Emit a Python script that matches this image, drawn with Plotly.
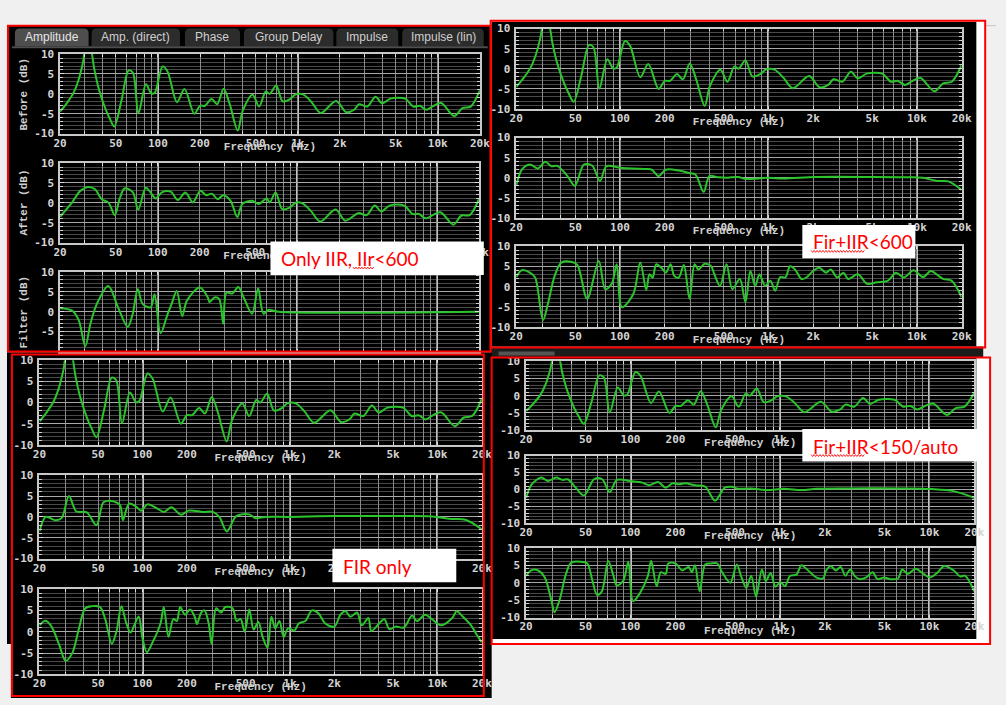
import math
import plotly.graph_objects as go

W, H = 1006, 705

# ---------------- data ----------------
BEFORE_F = [20, 22.5, 25, 27, 29, 31, 33, 35, 37.6, 41.9, 45, 48.7, 54.9, 61.8, 66.3, 72.6, 82.2, 90, 95, 108,
            117, 137, 155, 182, 200, 217, 242, 265, 295, 326, 372, 404, 475, 529, 590, 629, 700, 780, 883, 958,
            1096, 1255, 1460, 1880, 2212, 2530, 2740, 3140, 3594, 4000, 4580, 5840, 6680, 7450, 8300, 9240,
            10570, 13120, 15000, 17180, 20000]
BEFORE_DB = [-4.5, -2.2, 0.3, 3.3, 7.5, 12.5, 11.5, 6.5, 1.6, -3.5, -6, -8.2, -1.7, 5.9, 5.3, -4.9, 2.4, 0.1, 0.3, 6.9,
             5.7, -2.1, 1.2, -5, -3, -3, -1.3, -2.6, 1.3, -2.6, -9.2, -4.2, -0.2, -3.2, 0.6, 0, 2.1, -1.9, -1.3, -0.2,
             -0.2, -2.1, -4.8, -1.8, -4.6, -4, -2.6, -3.2, -0.7, -2.4, -1.2, -1.2, -3.2, -3, -4, -3.1,
             -2.3, -5.6, -3.6, -3.2, 0.9]

AFTER_IIR_F = [20, 24.4, 27.9, 32, 35.6, 39.7, 44.3, 49.3, 53.3, 57.9, 66.3, 72.6, 82.2, 89, 96.8, 107.8, 124, 139.5,
               158, 178.6, 202, 223, 245, 269, 295, 333, 372, 404, 475, 529, 604, 635, 700, 780, 883, 980, 1096,
               1255, 1460, 1880, 2212, 2740, 3140, 3594, 4000, 4580, 5840, 6680, 7450, 8300, 10570, 13120, 15000,
               17180, 20000]
AFTER_IIR_DB = [-3.5, 0.1, 3, 4, 3.4, 0.9, 0.1, -3.1, 0.9, 3.6, 2.7, -1.7, 3.8, 2.6, 1.1, 2.7, 2.8, 0.7,
                2.6, 0.1, 3, 1.9, 2.3, 0.9, 1.9, 0.5, -3.6, -0.3, 0.5, -0.3, 1.1, 0.1, 2.6, -1.6, -1.2, 0.1, -0.2,
                -2.1, -4.7, -1.7, -4.5, -2.6, -3.1, -0.7, -2.2, -0.7, -0.7, -2.8, -2.8, -3.9, -2.4, -5.5, -3.2,
                -3.1, 0.9]

FILTER_IIR_F = [20, 24.4, 27.2, 30.3, 33, 36.7, 44.3, 52, 61, 66.3, 72, 78, 89, 95, 105, 117, 126, 137, 150, 162,
                200, 229, 235, 255, 276, 295, 311, 343, 378, 413, 475, 524, 573, 625, 733, 20000]
FILTER_IIR_DB = [0.9, 0.3, -2.1, -8.7, -3, 2, 6.5, 1.1, -3.8, -0.5, 5.7, 2, 1.1, 4.4, -5.4, -0.9, 2, 5.2, -1.1, 2.8,
                 6.1, 3.6, 2.4, 3.6, 3.2, -3, 4.8, 4.6, 6.2, 3.6, -0.5, 5.9, -0.5, 0.5, 0, 0]

AFTER_F600_F = [20, 21.8, 24.7, 28, 31.4, 34.4, 38, 44.3, 49.6, 57.2, 65, 73.3, 81, 100, 122, 150, 164, 182, 203, 249,
                291, 322, 366, 400, 460, 530, 624, 700, 1000, 1260, 2100, 5000, 9500, 11000, 13700, 16300, 20000]
AFTER_F600_DB = [-2, 2, 3.3, 2.3, 4, 2.9, 2.9, 0.4, -2, 3.3, 3, -0.8, 2.9, 2.5, 2.3, 2.2, 2, 0.4, 2, 1.8,
                 1.2, 0.8, -3.5, 0.4, 0.1, 0, 0.2, -0.3, 0, -0.2, 0.2, 0.2, 0.1, 0, -0.8, -0.9, -3]

FILTER_F600_F = [20, 21.8, 24.7, 26.8, 30.3, 32.7, 36.3, 40.2, 46.7, 51.6, 60.1, 72, 79.5, 88, 95, 103, 123, 136.9,
                 150.3, 158, 166, 175.6, 194.4, 203.7, 219, 232, 249, 269, 294, 318, 337, 372, 411, 432, 472, 522,
                 571, 641, 700, 756, 814, 870, 950, 1030, 1110, 1200, 1300, 1400, 1510, 1670, 1800, 2000, 2200, 2440,
                 2630, 2900, 3200, 3440, 4000, 4630, 5370, 6380, 7220, 8190, 9490, 11000, 12400, 14000, 15100, 17100,
                 20000]
FILTER_F600_DB = [2.4, 4.1, 3.5, 2.3, -8.3, -4.2, 2.7, 6, 6.2, 5.4, -3, 6.4, -0.6, 0.7, 5.6, -5.1, -1.8, 6,
                  -0.8, 3.1, 2.3, 5.6, 4.3, 3.5, 5.6, 2.7, 2.3, 5.4, -3, 5.6, 4.3, 5.7, 5.1, 3.1, 0.2, 5.6,
                  -0.6, 1.9, -3.8, 3.9, 0.2, 3.1, 0.2, 1.5, -1, 2.4, 2.3, 5.1, 4.3, 1.9, 2.3, 3.9, 4.7, 3.5,
                  4.3, 2.3, 3.5, 1.9, 3.1, 0.7, 1.1, 1.5, 3.5, 2.3, 4.1, 2.4, 3.9, 2.7, 1.9, 1.5,
                  -2.6]

AFTER_FIR_F = [20, 22.1, 25.7, 28.3, 31.7, 35.6, 41.9, 48.7, 54.4, 61.8, 70.4, 73.6, 81, 90, 97.8, 108, 126, 139.5,
               157, 183, 205, 258, 300, 332, 373, 432, 530, 583, 680, 1000, 2000, 5500, 9200, 12500, 15500, 20000]
AFTER_FIR_DB = [-3.5, 0, -0.8, -0.3, 5, 1.3, 1.1, -2, 3.5, 3.8, 2.8, -0.8, 3.2, 2.5, 1.5, 3, 2, 1.2,
                2.3, 0.5, 1.5, 1.2, 1.2, 0, -3.5, 0.2, 0.6, -0.3, 0, 0, 0.2, 0.2, 0.1, -0.5, -0.7, -3]

FILTER_FIR_F = [20, 21.9, 23.9, 27.2, 30.1, 33.4, 36.9, 40.9, 45.3, 51.5, 55.8, 61.9, 66.5, 71.9, 77.6, 82.9, 87.9,
                94.2, 100, 107, 117, 132.6, 139.4, 150, 162, 171, 180, 194, 210, 226, 234, 250, 263, 281, 294, 316,
                341, 365, 408, 435, 462, 493, 530, 567, 611, 652, 704, 748, 795, 848, 905, 971, 1070, 1150, 1270,
                1410, 1560, 1730, 2000, 2200, 2380, 2570, 2850, 3070, 3400, 3560, 4040, 4360, 4720, 5200, 5920,
                6730, 7260, 8250, 9140, 10600, 12600, 13500, 14900, 16900, 18700, 20000]
FILTER_FIR_DB = [1.5, 2.6, 1.5, -3, -6.8, -5, 0.5, 5.5, 6, 5.8, 3, -2.8, 0, 6, 2, -0.2, 1.5,
                 3.6, -1.5, -4.8, -2.5, 2, 5.8, -1.2, 3, 2.5, 5.8, 4, 5.2, 3.5, 1.8, 4.5, 5, 2, -2.8, 5.5,
                 4.5, 5.8, 5.5, 2.5, 3, 0, 5.2, 0.5, 2.3, -1.2, -3.7, 3.5, 0.8, 2.5, -1.2, 0.8, 0.3, 2, 2.5,
                 5, 4.3, 2, 1.2, 4, 4.8, 3.5, 4.5, 1.5, 3.2, 0.2, 2, 3, 0.6, 1.2, 1,
                 3.8, 2.5, 4, 3, 1.5, 3.2, 4.8, 3.5, 1.5, -1, -2.5]

AFTER_F150_F = [20, 21.8, 25.3, 28, 31.8, 35.2, 38, 43, 48.9, 56.9, 64.6, 72.6, 81, 98.6, 120, 133, 153, 172, 191,
                211, 233, 270, 316, 368, 427, 474, 524, 640, 825, 1060, 1400, 1760, 2900, 6200, 10400, 14500, 20000]
AFTER_F150_DB = [-2.5, 1.5, 3.5, 2.5, 3.5, 2.8, 3, 0.5, -1.8, 3, 3, -0.8, 2.8, 2.5, 2, 1.2, 2.2, 0.5, 1.8,
                 1.5, 1.8, 1.2, 0.8, -3.3, 0.5, 0.8, 0.2, 0.3, -0.2, 0.2, -0.2, 0.2, 0.3, 0.3, 0.1, -0.5, -2.5]

FILTER_F150_F = [20, 21.8, 24.1, 26.7, 29.5, 31, 33.5, 37, 40, 46.5, 51.3, 55.3, 59.7, 64.3, 71, 76.8, 80.8, 89.4,
                 96.6, 104, 115.6, 130.8, 137.5, 149.4, 159.6, 172, 179, 200, 222, 245, 257, 270, 290, 316, 345,
                 381, 410, 465, 514, 553, 596, 642, 692, 757, 804, 866, 933, 1006, 1080, 1170, 1290, 1390, 1500,
                 1750, 1940, 2040, 2190, 2360, 2550, 2740, 2950, 3180, 3420, 3780, 4170, 4500, 4960, 5460, 6170,
                 6580, 7160, 8090, 9140, 10070, 11400, 12570, 14560, 16060, 17300, 20000]
FILTER_F150_DB = [2, 3.6, 3.5, 1.5, -5, -8.5, -5, 2.5, 5.7, 6, 5.5, 1, -3.5, -2.5, 6.2, 2, -0.8, 0.5,
                  6, -5.3, -3, 2, 6.3, -1, 3, 2.5, 5.5, 5.5, 3.5, 4.5, 3, 5, -2.5, 5.2, 5.5,
                  5.5, 3, 0, 5.2, 1.5, -1.5, 2, -4, 3.8, 0.5, 2.8, -1.2, 0.2, -1, 2, 2.3, 5, 4,
                  1.5, 1.2, 3.5, 4.8, 3.5, 4.5, 2, 3.8, 1.8, 1, 1.5, 3, 1, 1.5, 1, 1.2,
                  3.8, 2.5, 4, 2.5, 1.5, 3, 4.8, 3.5, 1.8, 2, -2.5]

X_TICKS = [20, 30, 40, 50, 60, 70, 80, 90, 100, 200, 300, 400, 500, 600, 700, 800, 900,
           1000, 2000, 3000, 4000, 5000, 6000, 7000, 8000, 9000, 10000, 20000]
X_LABELS = {20: "20", 50: "50", 100: "100", 200: "200", 500: "500", 1000: "1k",
            2000: "2k", 5000: "5k", 10000: "10k", 20000: "20k"}
Y_TICKS = [-10, -5, 0, 5, 10]
DECADES = [100, 1000, 10000]

TABS = ["Amplitude", "Amp. (direct)", "Phase", "Group Delay", "Impulse", "Impulse (lin)"]
Y_TITLES = ["Before (dB)", "After (dB)", "Filter (dB)"]
LABEL_TEXTS = ["Only IIR, IIr<600", "Fir+IIR<600", "FIR only", "Fir+IIR<150/auto"]

# ---------------- layout geometry (pixels) ----------------
# (x0, x1, ytop, ybottom, freq, dB, show_freq_title)
PANELS = [
    (54, 481, 49, 130, BEFORE_F, BEFORE_DB, True),
    (54, 480, 160, 241, AFTER_IIR_F, AFTER_IIR_DB, True),
    (54, 480, 271, 352, FILTER_IIR_F, FILTER_IIR_DB, False),
    (518, 971, 23, 105, BEFORE_F, BEFORE_DB, True),
    (518, 971, 134, 216, AFTER_F600_F, AFTER_F600_DB, True),
    (518, 971, 245, 327, FILTER_F600_F, FILTER_F600_DB, True),
    (33, 483, 361, 447, BEFORE_F, BEFORE_DB, True),
    (33, 483, 478, 563, AFTER_FIR_F, AFTER_FIR_DB, True),
    (33, 483, 594, 681, FILTER_FIR_F, FILTER_FIR_DB, True),
    (528, 984, 362, 432, BEFORE_F, BEFORE_DB, True),
    (528, 984, 458, 527, AFTER_F150_F, AFTER_F150_DB, True),
    (528, 984, 552, 623, FILTER_F150_F, FILTER_F150_DB, True),
]

GREEN = "#2cc42c"
TICK_FONT = dict(family="DejaVu Sans Mono", size=11, color="#d4d4d4", weight="bold")
FREQ_FONT = dict(family="Liberation Mono", size=11, color="#d0d0d0", weight="bold")


def fx(p):
    return p / W


def fy(p):
    return 1 - p / H


def sfx(i):
    return "" if i == 1 else str(i)


fig = go.Figure()
shapes = []
annotations = []
layout = dict(width=W, height=H, margin=dict(l=0, r=0, t=0, b=0),
              paper_bgcolor="#f0f0f0", plot_bgcolor="#000000", showlegend=False)


def rect(x0, y0, x1, y1, fill=None, line=None, lw=0, layer="below"):
    d = dict(type="rect", xref="paper", yref="paper", x0=fx(x0), x1=fx(x1), y0=fy(y1), y1=fy(y0),
             layer=layer, line=dict(width=lw, color=line or "rgba(0,0,0,0)"))
    d["fillcolor"] = fill if fill else "rgba(0,0,0,0)"
    return d


# backgrounds
shapes += [
    rect(0, 20, 492, 353, fill="#000000"),
    rect(492, 15, 995, 348, fill="#ffffff"),
    rect(493, 16, 986, 347, fill="#000000"),
    rect(492, 347, 993, 358, fill="#1c1c1c"),
    rect(500, 352, 557, 356, fill="#555555"),
    rect(0, 353, 493, 705, fill="#000000"),
    rect(0, 650, 4, 705, fill="#f0f0f0"),
    rect(493, 358, 1000, 650, fill="#ffffff"),
    rect(493, 358, 986, 645, fill="#000000"),
    dict(type="line", xref="paper", yref="paper", x0=fx(995), x1=1, y0=fy(20), y1=fy(20),
         line=dict(color="#c4c4c4", width=1), layer="below"),
]

# tab bar
TAB_X = [(8, 83), (86, 176), (181, 237), (241, 332), (335, 398), (402, 485)]
for k, (a, b) in enumerate(TAB_X):
    r = 5
    path = (f"M {fx(a)},{fy(41)} L {fx(a)},{fy(23 + r)} Q {fx(a)},{fy(23)} {fx(a + r)},{fy(23)} "
            f"L {fx(b - r)},{fy(23)} Q {fx(b)},{fy(23)} {fx(b)},{fy(23 + r)} L {fx(b)},{fy(41)} Z")
    shapes.append(dict(type="path", xref="paper", yref="paper", path=path,
                       fillcolor="#4e4e4e" if k == 0 else "#2c2c2c", line=dict(width=0), layer="below"))
    annotations.append(dict(xref="paper", yref="paper", x=fx((a + b) / 2), y=fy(32), text=TABS[k],
                            showarrow=False, xanchor="center", yanchor="middle",
                            font=dict(family="Liberation Sans", size=12,
                                      color="#e6e6e6" if k == 0 else "#cfcfcf")))
shapes.append(dict(type="line", xref="paper", yref="paper", x0=fx(5), x1=fx(489), y0=fy(42), y1=fy(42),
                   line=dict(color="#4e4e4e", width=2), layer="below"))

# panels
n = len(PANELS)
rng = [math.log10(20), math.log10(20000)]
for i, (x0, x1, yt, yb, F, DB, show_freq) in enumerate(PANELS, start=1):
    assert len(F) == len(DB)
    s = sfx(i)
    fig.add_trace(go.Scatter(x=F, y=DB, mode="lines", xaxis="x" + s, yaxis="y" + s,
                             line=dict(color=GREEN, width=2, shape="spline", smoothing=0.9),
                             hoverinfo="skip", showlegend=False))
    hide_bottom = (i == 3)
    layout["xaxis" + s] = dict(
        domain=[fx(x0), fx(x1)], anchor="y" + s, type="log", range=rng,
        tickvals=X_TICKS, ticktext=[X_LABELS.get(v, "") for v in X_TICKS],
        showticklabels=not hide_bottom, tickfont=TICK_FONT, ticklabelstandoff=-2,
        showgrid=True, gridcolor="#8a8a8a", gridwidth=1,
        ticks="inside", ticklen=3, tickcolor="#dcdcdc", tickwidth=1,
        showline=True, linecolor="#c8c8c8", linewidth=1.5, mirror="ticks",
        zeroline=False, fixedrange=True)
    layout["yaxis" + s] = dict(
        domain=[fy(yb), fy(yt)], anchor="x" + s, range=[-10, 10],
        tickvals=Y_TICKS, ticktext=["" if (hide_bottom and v == -10) else str(v) for v in Y_TICKS],
        tickfont=TICK_FONT, ticklabelstandoff=2,
        showgrid=True, gridcolor="#a8a8a8", gridwidth=1,
        minor=dict(dtick=1, showgrid=True, gridcolor="#4a4a4a", gridwidth=1,
                   ticks="inside", ticklen=3, tickcolor="#cfcfcf"),
        ticks="inside", ticklen=4, tickcolor="#dcdcdc",
        showline=True, linecolor="#c8c8c8", linewidth=1.5, mirror="ticks",
        zeroline=False, fixedrange=True)
    # overlaying axis: brighter decade grid lines + the "Frequency (Hz)" title as a tick label
    # (a tick label stays beneath the white label boxes, like in the reference)
    j = n + i
    layout["xaxis" + str(j)] = dict(
        overlaying="x" + s, anchor="y" + s, type="log", range=rng,
        tickvals=[math.sqrt(20 * 20000)], ticktext=["Frequency (Hz)" if show_freq else ""],
        tickfont=FREQ_FONT, ticklabelstandoff=4, ticks="", showgrid=False,
        minor=dict(tickvals=DECADES, showgrid=True, gridcolor="#c4c4c4", gridwidth=1.6, ticks=""),
        showline=False, zeroline=False, fixedrange=True)
    fig.add_trace(go.Scatter(x=[], y=[], xaxis="x" + str(j), yaxis="y" + s, showlegend=False,
                             hoverinfo="skip"))

# Q1 y-axis titles
for k in range(3):
    x0, x1, yt, yb = PANELS[k][:4]
    annotations.append(dict(xref="paper", yref="paper", x=fx(17), y=fy((yt + yb) / 2), text=Y_TITLES[k],
                            textangle=-90, showarrow=False, xanchor="center", yanchor="middle",
                            font=dict(family="Liberation Mono", size=11, color="#d0d0d0", weight="bold")))

# label boxes
BOXES = [(268, 240, 485, 274, 277, 257), (809, 223, 924, 257, 818, 240),
         (331, 553, 457, 587, 340, 571), (809, 431, 999, 464, 818, 449)]
for (a, b, c, d, tx, ty), txt in zip(BOXES, LABEL_TEXTS):
    shapes.append(rect(a, b, c, d, fill="#ffffff", layer="above"))
    annotations.append(dict(xref="paper", yref="paper", x=fx(tx), y=fy(ty), text=txt, showarrow=False,
                            xanchor="left", yanchor="middle",
                            font=dict(family="Lato", size=19, color="#ff0000")))

# spell-check squiggles
for (a, b, yy) in [(352, 373, 267), (818, 873, 250), (818, 873, 458)]:
    pts = []
    xx = a
    up = True
    while xx <= b:
        pts.append(f"{fx(xx)},{fy(yy - 1 if up else yy + 1)}")
        up = not up
        xx += 1.5
    shapes.append(dict(type="path", xref="paper", yref="paper", path="M " + " L ".join(pts),
                       line=dict(color="#ff2020", width=1), layer="above"))

# red borders
for (a, b, c, d) in [(1, 20, 492, 352), (492, 15, 995, 348), (5, 355, 485, 703), (493, 358, 1000, 650)]:
    shapes.append(rect(a, b, c, d, line="#ff0000", lw=2, layer="above"))

layout["shapes"] = shapes
layout["annotations"] = annotations
fig.update_layout(**layout)
fig.write_html("out.html", config={"displayModeBar": False},
               post_script="document.body.style.margin='0px';document.body.style.overflow='hidden';")
